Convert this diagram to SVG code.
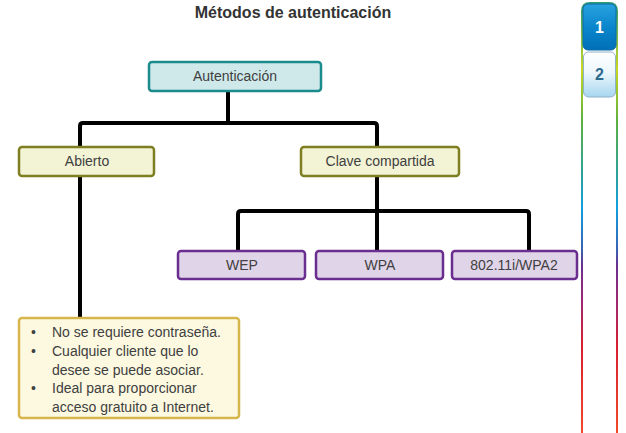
<svg xmlns="http://www.w3.org/2000/svg" width="626" height="433" viewBox="0 0 626 433">
<defs>
<linearGradient id="side" gradientUnits="userSpaceOnUse" x1="0" y1="0" x2="0" y2="433">
<stop offset="0" stop-color="#2a9a7a"/>
<stop offset="0.16" stop-color="#c8d820"/>
<stop offset="0.28" stop-color="#5db040"/>
<stop offset="0.41" stop-color="#2aa0a0"/>
<stop offset="0.48" stop-color="#10a0e0"/>
<stop offset="0.58" stop-color="#3a60b0"/>
<stop offset="0.61" stop-color="#6a3090"/>
<stop offset="0.70" stop-color="#a02870"/>
<stop offset="0.80" stop-color="#d82030"/>
<stop offset="1" stop-color="#f04a2a"/>
</linearGradient>
<linearGradient id="tab1" x1="0" y1="0" x2="0" y2="1">
<stop offset="0" stop-color="#2aa2e0"/>
<stop offset="0.5" stop-color="#0a86cc"/>
<stop offset="1" stop-color="#0070b8"/>
</linearGradient>
<linearGradient id="tab2" x1="0" y1="0" x2="0" y2="1">
<stop offset="0" stop-color="#ffffff"/>
<stop offset="0.45" stop-color="#eef7fc"/>
<stop offset="1" stop-color="#a6d6ef"/>
</linearGradient>
</defs>
<style>
text{font-family:"Liberation Sans",Arial,sans-serif;font-size:14px;fill:#404040}
.title{font-weight:bold;font-size:16px;fill:#333}
.c{text-anchor:middle}
.teal{fill:#cfe9ea;stroke:#1b8b8b;stroke-width:2.5}
.olive{fill:#f3f3d5;stroke:#7e7e22;stroke-width:2.5}
.purple{fill:#e0d5e8;stroke:#6a2d90;stroke-width:2.5}
.note{fill:#fdf9e1;stroke:#d6b64c;stroke-width:2.5}
.conn{fill:none;stroke:#000;stroke-width:4;stroke-linejoin:round}
.tabn{font-weight:bold;font-size:16px;text-anchor:middle}
</style>
<text class="title c" x="293" y="18">Métodos de autenticación</text>
<g id="connectors">
<path class="conn" d="M228,91 V123"/>
<path class="conn" d="M80,318 V126 Q80,123 83,123 H374 Q377,123 377,126 V211"/>
<path class="conn" d="M238,251 V214 Q238,211 241,211 H526 Q529,211 529,214 V251"/>
<path class="conn" d="M377,211 V251"/>
</g>
<g id="autenticacion">
<rect class="teal" x="149" y="62" width="172" height="29" rx="3"/>
<text class="c" x="235" y="81">Autenticación</text>
</g>
<g id="abierto">
<rect class="olive" x="19" y="147" width="135" height="29" rx="3"/>
<text class="c" x="87" y="166">Abierto</text>
</g>
<g id="clave">
<rect class="olive" x="301" y="147" width="158" height="29" rx="3"/>
<text class="c" x="380" y="166">Clave compartida</text>
</g>
<g id="wep">
<rect class="purple" x="178" y="251" width="127" height="28" rx="3"/>
<text class="c" x="242" y="270">WEP</text>
</g>
<g id="wpa">
<rect class="purple" x="316" y="251" width="127" height="28" rx="3"/>
<text class="c" x="380" y="270">WPA</text>
</g>
<g id="wpa2">
<rect class="purple" x="452" y="251" width="125" height="28" rx="3"/>
<text class="c" x="514" y="270">802.11i/WPA2</text>
</g>
<g id="nota">
<rect class="note" x="19" y="318" width="220" height="100" rx="3"/>
<text x="31" y="337">•</text>
<text x="52" y="337">No se requiere contraseña.</text>
<text x="31" y="355.75">•</text>
<text x="52" y="355.75">Cualquier cliente que lo</text>
<text x="52" y="374.5">desee se puede asociar.</text>
<text x="31" y="393.25">•</text>
<text x="52" y="393.25">Ideal para proporcionar</text>
<text x="52" y="412">acceso gratuito a Internet.</text>
</g>
<g id="sidebar">
<path d="M582,433 V11 Q582,3 590,3 H609 Q617,3 617,11 V433" fill="none" stroke="url(#side)" stroke-width="2"/>
<g id="tab1g">
<rect x="583" y="4" width="33" height="46" rx="5" fill="url(#tab1)" stroke="#0b6aa8" stroke-width="1"/>
<text class="tabn" x="599.5" y="33" style="fill:#ffffff">1</text>
</g>
<g id="tab2g">
<rect x="583.5" y="52" width="32" height="45" rx="5" fill="url(#tab2)" stroke="#8fb2c8" stroke-width="1"/>
<text class="tabn" x="599.5" y="80" style="fill:#2d6a8e">2</text>
</g>
</g>
</svg>
